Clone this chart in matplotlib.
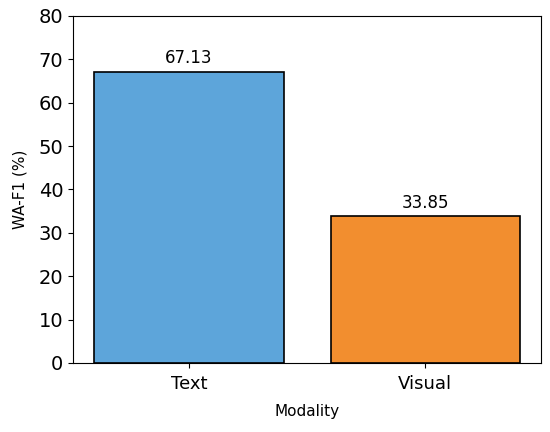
import matplotlib.pyplot as plt

modalities = ['Text', 'Visual']
wa_f1 = [67.13, 33.85]
bar_colors = ['#5DA5DA', '#F28E2F']

fig, ax = plt.subplots(figsize=(5.5, 4.32), dpi=100)
bars = ax.bar(modalities, wa_f1, width=0.8, color=bar_colors,
              edgecolor='black', linewidth=1.2)

for bar, val in zip(bars, wa_f1):
    ax.text(bar.get_x() + bar.get_width() / 2, val + 1, f'{val:.2f}',
            ha='center', va='bottom', fontsize=12)

ax.set_ylim(0, 80)
ax.set_xlabel('Modality', fontsize=11, labelpad=8)
ax.set_ylabel('WA-F1 (%)', fontsize=11, labelpad=8)
ax.tick_params(axis='x', labelsize=13, pad=5)
ax.tick_params(axis='y', labelsize=14)

plt.subplots_adjust(left=0.133, right=0.984, top=0.963, bottom=0.16)
plt.savefig('out.png', dpi=100)
